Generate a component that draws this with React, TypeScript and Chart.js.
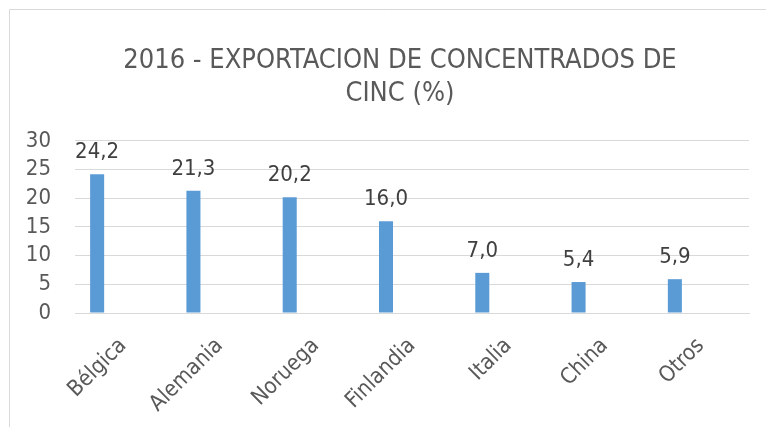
import { useEffect, useRef } from 'react';
import { Chart, registerables } from 'chart.js';

Chart.register(...registerables);

const categories = ['Bélgica', 'Alemania', 'Noruega', 'Finlandia', 'Italia', 'China', 'Otros'];
const shares = [24.2, 21.3, 20.2, 16.0, 7.0, 5.4, 5.9];
// Empty second series (Excel layout leaves an empty slot beside each bar)
const emptySeries = [null, null, null, null, null, null, null];
const yMin = 0;
const yMax = 30;
const yStep = 5;
const titleLines = ['2016 - EXPORTACION DE CONCENTRADOS DE', 'CINC (%)'];

const FONT = '"DejaVu Sans Condensed", "DejaVu Sans", sans-serif';
const TEXT = '#595959';
const GRID = '#D9D9D9';
const BAR = '#5B9BD5';

const frame = {
  id: 'frame',
  afterLayout(chart: any) {
    // the chart frame continues beyond the right edge of the picture,
    // so the title is centred on the wider frame
    if (chart.titleBlock) {
      chart.titleBlock.left = 51;
      chart.titleBlock.width = chart.titleBlock.right - 51;
    }
  },
  beforeDraw(chart: any) {
    const ctx = chart.ctx;
    ctx.save();
    ctx.fillStyle = '#ffffff';
    ctx.fillRect(0, 0, chart.width, chart.height);
    ctx.strokeStyle = GRID;
    ctx.lineWidth = 1;
    ctx.beginPath();
    ctx.moveTo(9.5, chart.height);
    ctx.lineTo(9.5, 9.5);
    ctx.lineTo(chart.width, 9.5);
    ctx.stroke();
    ctx.restore();
  },
};

const dataLabels = {
  id: 'dataLabels',
  afterDatasetsDraw(chart: any) {
    const ctx = chart.ctx;
    const meta = chart.getDatasetMeta(0);
    ctx.save();
    ctx.font = `22px ${FONT}`;
    ctx.fillStyle = '#404040';
    ctx.textAlign = 'center';
    ctx.textBaseline = 'alphabetic';
    meta.data.forEach((bar: any, i: number) => {
      const v = chart.data.datasets[0].data[i] as number;
      ctx.fillText(v.toFixed(1).replace('.', ','), bar.x, bar.y - 16);
    });
    ctx.restore();
  },
};

export default function App() {
  const ref = useRef<HTMLCanvasElement>(null);
  useEffect(() => {
    if (!ref.current) return;
    const chart = new Chart(ref.current, {
      type: 'bar',
      data: {
        labels: categories,
        datasets: [
          {
            label: 'Exportación (%)',
            data: shares,
            backgroundColor: BAR,
            categoryPercentage: 1.08,
            barPercentage: 0.27,
          },
          {
            label: '',
            data: emptySeries as any,
            backgroundColor: BAR,
            categoryPercentage: 1.08,
            barPercentage: 0.27,
          },
        ],
      },
      options: {
        responsive: false,
        animation: false,
        layout: { padding: { left: 0, right: 17, top: 0, bottom: 0 } },
        plugins: {
          legend: { display: false },
          tooltip: { enabled: false },
          title: {
            display: true,
            text: titleLines,
            color: TEXT,
            font: { family: FONT, size: 27, weight: 'normal', lineHeight: 1.222 },
            padding: { top: 44, bottom: 31 },
          },
        },
        scales: {
          x: {
            grid: { display: false, drawTicks: false },
            border: { display: true, color: GRID, width: 1 },
            ticks: {
              color: TEXT,
              font: { family: FONT, size: 22 },
              minRotation: 45,
              maxRotation: 45,
              autoSkip: false,
              padding: 20,
            },
            afterFit: (s: any) => {
              s.height = 114;
            },
          },
          y: {
            min: yMin,
            max: yMax,
            grid: { color: GRID, lineWidth: 1, drawTicks: false },
            border: { display: false },
            ticks: {
              stepSize: yStep,
              autoSkip: false,
              color: TEXT,
              font: { family: FONT, size: 22 },
              padding: 24,
            },
            afterFit: (s: any) => {
              s.width = 75;
            },
          },
        },
      },
      plugins: [frame, dataLabels],
    });
    return () => chart.destroy();
  }, []);

  return (
    <div style={{ position: 'fixed', left: 0, top: 0, width: 766, height: 427, background: '#fff', overflow: 'hidden' }}>
      <canvas ref={ref} width={766} height={427} style={{ position: 'absolute', left: 0, top: 0, display: 'block' }} />
    </div>
  );
}
